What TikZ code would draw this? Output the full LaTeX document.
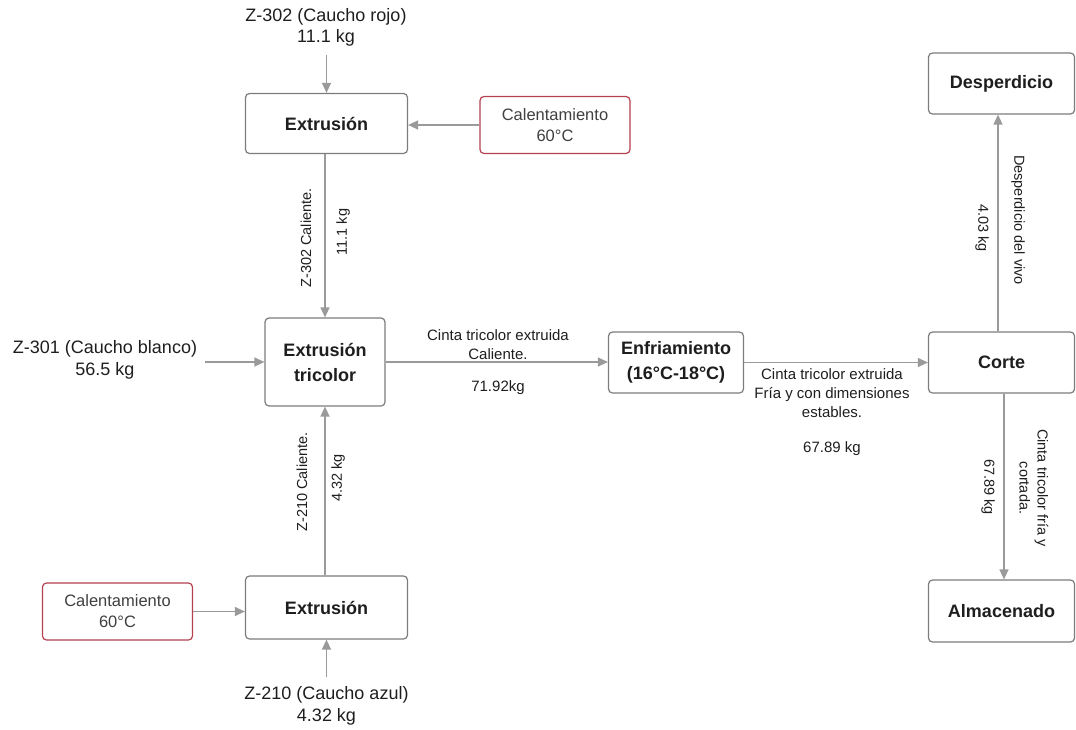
\documentclass[tikz,border=0pt]{standalone}
\usepackage{fontspec}
\setmainfont{Liberation Sans}
\usetikzlibrary{arrows.meta,calc}
\definecolor{boxgray}{HTML}{7C7C7C}
\definecolor{linegray}{HTML}{9A9A9A}
\definecolor{redb}{HTML}{B5404F}
\definecolor{txt}{HTML}{1E1E1E}
\begin{document}
\begin{tikzpicture}[x=1pt,y=-1pt,
  proc/.style={draw=boxgray,line width=1.2pt,rounded corners=4pt,fill=white,
    font=\fontsize{18}{25}\selectfont\bfseries,align=center,inner sep=0pt,text=txt},
  heat/.style={draw=redb,line width=1.2pt,rounded corners=4pt,fill=white,align=center,
    inner sep=0pt,font=\fontsize{16.5}{21}\selectfont,text=txt!85},
  biglbl/.style={align=center,inner sep=0pt,text=txt,font=\fontsize{18}{21.5}\selectfont},
  smalllbl/.style={align=center,inner sep=0pt,text=txt,font=\fontsize{15}{19}\selectfont},
  rotlbl/.style={align=center,inner sep=0pt,text=txt,font=\fontsize{14.5}{18}\selectfont},
  flow/.style={draw=linegray,line width=1.3pt,-{Triangle[length=10pt,width=9pt]}}
]
\useasboundingbox (0,0) rectangle (1076,729);

% process boxes
\node[proc,minimum width=162pt,minimum height=60pt] (ext1) at (326.5,123.5) {Extrusión};
\node[heat,minimum width=150pt,minimum height=57pt] (cal1) at (555,125) {Calentamiento\\60°C};
\node[proc,minimum width=120pt,minimum height=88pt] (tri) at (325,362) {Extrusión\\tricolor};
\node[proc,minimum width=135pt,minimum height=61pt] (enf) at (676,362.5) {Enfriamiento\\(16°C-18°C)};
\node[proc,minimum width=146pt,minimum height=61pt] (corte) at (1001.5,362.5) {Corte};
\node[proc,minimum width=146pt,minimum height=61pt] (desp) at (1001.5,83.5) {Desperdicio};
\node[proc,minimum width=146pt,minimum height=62pt] (alm) at (1001.5,611) {Almacenado};
\node[proc,minimum width=162pt,minimum height=63pt] (ext2) at (326.5,607.5) {Extrusión};
\node[heat,minimum width=150pt,minimum height=57pt] (cal2) at (117.5,611.5) {Calentamiento\\60°C};

% input labels
\node[biglbl] (z302) at (326,27.5) {Z-302 (Caucho rojo)\\11.1 kg};
\node[biglbl] (z301) at (105,360) {Z-301 (Caucho blanco)\\56.5 kg};
\node[biglbl] (z210) at (326.5,706) {Z-210 (Caucho azul)\\4.32 kg};

% connectors
\draw[flow,shorten <=8pt] (z302.south -| ext1.north) -- (ext1.north);
\draw[flow] (cal1.west) -- (ext1.east |- cal1.west);
\draw[flow] (ext1.south -| tri.north) -- (tri.north);
\draw[flow,shorten <=8pt] (z301.east |- tri.west) -- (tri.west);
\draw[flow] (ext2.north -| tri.south) -- (tri.south);
\draw[flow] (cal2.east) -- (ext2.west |- cal2.east);
\draw[flow,shorten <=10pt] (z210.north -| ext2.south) -- (ext2.south);
\draw[flow] (tri.east) -- (enf.west |- tri.east);
\draw[flow] (enf.east) -- (corte.west);
\draw[flow] ([xshift=-3.5pt]corte.north) -- ([xshift=-3.5pt]desp.south);
\draw[flow] ([xshift=2.5pt]corte.south) -- ([xshift=2.5pt]alm.north);

% flow labels
\node[rotlbl,rotate=90] (l1a) at (306,238) {Z-302 Caliente.};
\node[rotlbl,rotate=90] (l1b) at (343,232) {11.1 kg};
\node[rotlbl,rotate=90] (l2a) at (302,482) {Z-210 Caliente.};
\node[rotlbl,rotate=90] (l2b) at (338,478) {4.32 kg};
\node[smalllbl] (l3a) at (498,344.5) {Cinta tricolor extruida\\Caliente.};
\node[smalllbl] (l3b) at (498,388) {71.92kg};
\node[smalllbl] (l4a) at (832,393) {Cinta tricolor extruida\\Fría y con dimensiones\\estables.};
\node[smalllbl] (l4b) at (832,449) {67.89 kg};
\node[rotlbl,rotate=-90] (l5a) at (982,228) {4.03 kg};
\node[rotlbl,rotate=-90] (l5b) at (1018,220) {Desperdicio del vivo};
\node[rotlbl,rotate=-90] (l6a) at (988,487) {67.89 kg};
\node[rotlbl,rotate=-90] (l6b) at (1034,488) {Cinta tricolor fría y\\cortada.};
\end{tikzpicture}
\end{document}
